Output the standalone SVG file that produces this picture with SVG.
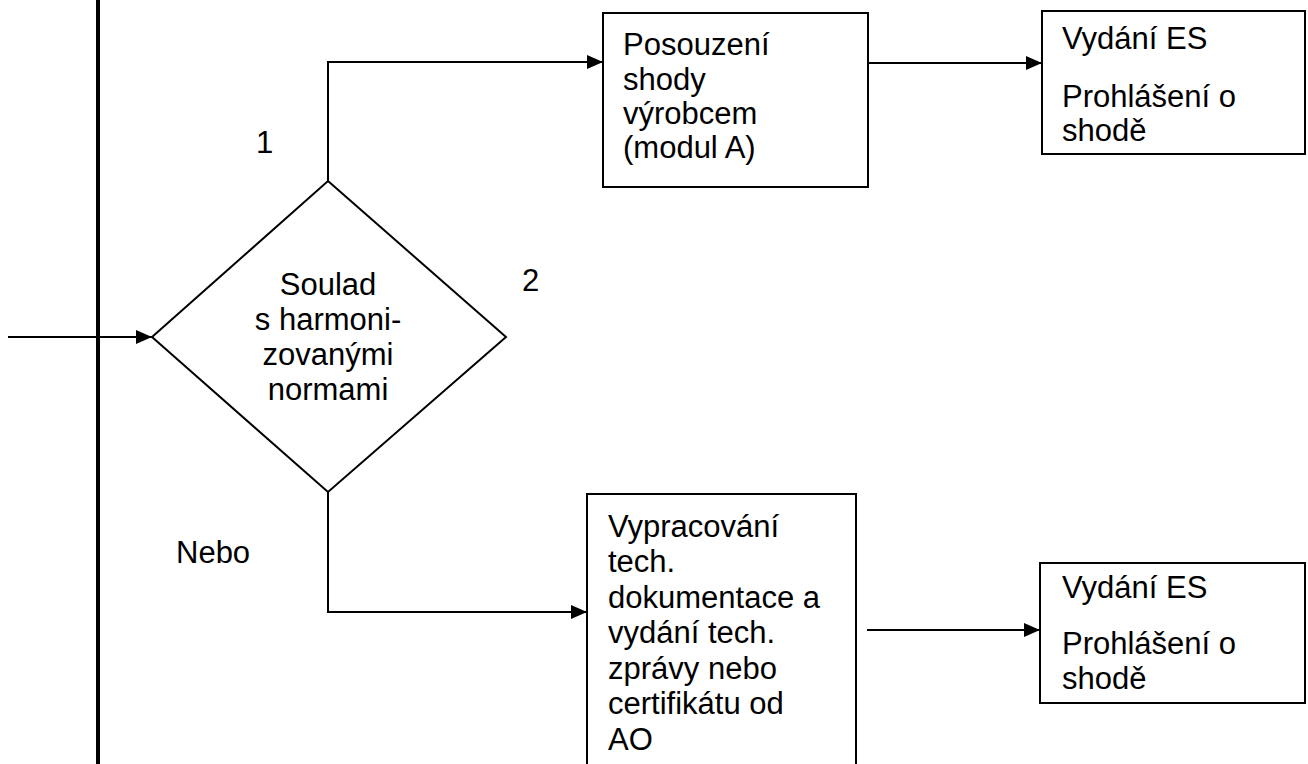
<svg xmlns="http://www.w3.org/2000/svg" width="1308" height="764" viewBox="0 0 1308 764">
<defs>
<style>
.t{font-family:"Liberation Sans",Arial,sans-serif;font-size:31px;fill:#000}
.c{text-anchor:middle}
.box{fill:#fff;stroke:#000;stroke-width:2}
.ln{fill:none;stroke:#000;stroke-width:2}
</style>
<marker id="ah" markerUnits="userSpaceOnUse" markerWidth="16" markerHeight="14" refX="16" refY="7" orient="auto">
<path d="M0,0 L16,7 L0,14 Z" fill="#000"/>
</marker>
</defs>
<rect width="1308" height="764" fill="#fff"/>
<line x1="98" y1="0" x2="98" y2="764" stroke="#000" stroke-width="4"/>
<g id="connectors">
<path class="ln" d="M8,337 H152" marker-end="url(#ah)"/>
<path class="ln" d="M328,181 V62 H603" marker-end="url(#ah)"/>
<path class="ln" d="M328,492 V612 H587" marker-end="url(#ah)"/>
<path class="ln" d="M868,63 H1042" marker-end="url(#ah)"/>
<path class="ln" d="M867,630 H1040" marker-end="url(#ah)"/>
</g>
<g id="decision">
<polygon class="box" points="328,181 506,337 328,492 152,337"/>
<text class="t c" x="328" y="295">Soulad</text>
<text class="t c" x="328" y="330">s harmoni-</text>
<text class="t c" x="328" y="365">zovanými</text>
<text class="t c" x="328" y="400">normami</text>
</g>
<g id="labels">
<text class="t" x="256" y="153">1</text>
<text class="t" x="522" y="291">2</text>
<text class="t" x="176" y="563">Nebo</text>
</g>
<g id="modulA">
<rect class="box" x="603" y="13" width="265" height="174"/>
<text class="t" x="623" y="55">Posouzení</text>
<text class="t" x="623" y="90">shody</text>
<text class="t" x="623" y="124">výrobcem</text>
<text class="t" x="623" y="158">(modul A)</text>
</g>
<g id="es1">
<rect class="box" x="1042" y="11" width="263" height="143"/>
<text class="t" x="1062" y="49">Vydání ES</text>
<text class="t" x="1062" y="107">Prohlášení o</text>
<text class="t" x="1062" y="141">shodě</text>
</g>
<g id="techdoc">
<rect class="box" x="587" y="494" width="269" height="290"/>
<text class="t" x="608" y="537">Vypracování</text>
<text class="t" x="608" y="572">tech.</text>
<text class="t" x="608" y="608">dokumentace a</text>
<text class="t" x="608" y="643">vydání tech.</text>
<text class="t" x="608" y="679">zprávy nebo</text>
<text class="t" x="608" y="714">certifikátu od</text>
<text class="t" x="608" y="750">AO</text>
</g>
<g id="es2">
<rect class="box" x="1040" y="563" width="265" height="140"/>
<text class="t" x="1062" y="598">Vydání ES</text>
<text class="t" x="1062" y="654">Prohlášení o</text>
<text class="t" x="1062" y="689">shodě</text>
</g>
</svg>
